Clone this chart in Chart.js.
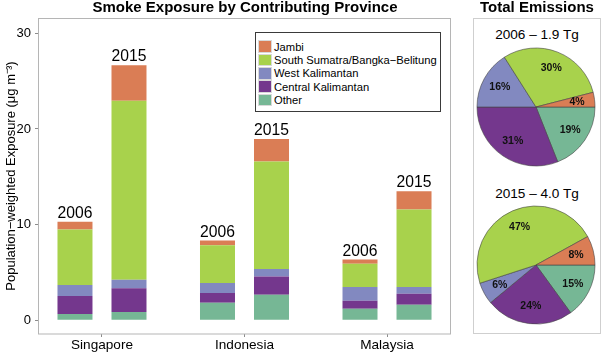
<!DOCTYPE html>
<html>
<head>
<meta charset="utf-8">
<title>Smoke Exposure by Contributing Province</title>
<script src="https://cdn.jsdelivr.net/npm/chart.js@4.4.0/dist/chart.umd.min.js"></script>
<style>
    body { margin: 0; background: #fff; font-family: 'Liberation Sans', Arial, sans-serif; color: #000; }
    #page { position: relative; width: 602px; height: 352px; overflow: hidden; }
    .abs { position: absolute; }
    .panel-title { font-weight: bold; font-size: 15px; line-height: 16px; text-align: center; top: -1px; }
    .pie-title { font-size: 13.6px; line-height: 16px; text-align: center; left: 473px; width: 128px; }
    #legend { left: 255px; top: 32px; width: 186px; height: 80px; box-sizing: border-box;
              border: 1px solid #3a3a3a; background: #fff; padding: 7px 0 0 2px; }
    .legend-row { display: flex; align-items: center; height: 13.3px; font-size: 11.2px; }
    .legend-swatch { width: 14px; height: 12.6px; margin-right: 2px; box-sizing: border-box; border: 0.5px solid #d9d9d9; }
    #pieBox { left: 473px; top: 18px; width: 128px; height: 316px; box-sizing: border-box; border: 1px solid #cfcfcf; }
</style>
</head>
<body>
<div id="page">
    <canvas id="barChart" class="abs" width="460" height="352" style="left:0;top:0"></canvas>
    <div class="abs panel-title" style="left:39px;width:412px">Smoke Exposure by Contributing Province</div>
    <div id="legend" class="abs"></div>

    <div class="abs panel-title" style="left:473px;width:128px">Total Emissions</div>
    <div id="pieBox" class="abs"></div>
    <div id="pieTitle0" class="abs pie-title" style="top:27px"></div>
    <div id="pieTitle1" class="abs pie-title" style="top:186px"></div>
    <canvas id="pie2006" class="abs" width="122" height="122" style="left:475px;top:46px"></canvas>
    <canvas id="pie2015" class="abs" width="122" height="122" style="left:475px;top:204px"></canvas>
</div>

<script>
// Datos
const countries = ['Singapore', 'Indonesia', 'Malaysia'];
const years = ['2006', '2015'];
// orden de apilado: de abajo hacia arriba
const provinces = ['Other', 'Central Kalimantan', 'West Kalimantan', 'South Sumatra/Bangka\u2212Belitung', 'Jambi'];
const provinceColors = ['#76B795', '#74378D', '#8289C0', '#A8D24C', '#DA7D55'];

// exposicion (ug m-3) por pais: Singapore, Indonesia, Malaysia
const other2006 = [0.66, 1.84, 1.21];
const centralKal2006 = [1.88, 1.02, 0.84];
const westKal2006 = [1.16, 1.04, 1.44];
const sumatra2006 = [5.79, 3.95, 2.41];
const jambi2006 = [0.80, 0.49, 0.45];

const other2015 = [0.87, 2.68, 1.63];
const centralKal2015 = [2.48, 1.89, 1.16];
const westKal2015 = [0.90, 0.80, 0.70];
const sumatra2015 = [18.71, 11.23, 8.09];
const jambi2015 = [3.70, 2.35, 1.92];

const yTicks = [0, 10, 20, 30];

// emisiones totales (%) en el mismo orden que provinces
const pie2006 = [19, 31, 16, 30, 4];
const pie2015 = [15, 24, 6, 47, 8];
const pieTitles = ['2006 \u2013 1.9 Tg', '2015 \u2013 4.0 Tg'];

const FONT = "'Liberation Sans', Arial, sans-serif";

document.addEventListener('DOMContentLoaded', function() {
    buildLegend();
    initBarChart();
    initPie('pie2006', pie2006);
    initPie('pie2015', pie2015);
    document.getElementById('pieTitle0').textContent = pieTitles[0];
    document.getElementById('pieTitle1').textContent = pieTitles[1];
});

// Leyenda en HTML (orden inverso: Jambi arriba)
function buildLegend() {
    const legend = document.getElementById('legend');
    for (let i = provinces.length - 1; i >= 0; i--) {
        const row = document.createElement('div');
        row.className = 'legend-row';
        const sw = document.createElement('span');
        sw.className = 'legend-swatch';
        sw.style.background = provinceColors[i];
        const txt = document.createElement('span');
        txt.textContent = provinces[i];
        row.appendChild(sw);
        row.appendChild(txt);
        legend.appendChild(row);
    }
}

// Marco gris alrededor del panel
const framePlugin = {
    id: 'frame',
    afterDraw(chart) {
        const { ctx, chartArea } = chart;
        ctx.save();
        ctx.strokeStyle = '#b5b5b5';
        ctx.lineWidth = 1;
        ctx.strokeRect(chartArea.left - 0.5, chartArea.top + 0.5,
            chartArea.right - chartArea.left, chartArea.bottom - chartArea.top - 0.5);
        ctx.restore();
    }
};

// Etiqueta del ano encima de cada barra
const yearLabelPlugin = {
    id: 'yearLabels',
    afterDatasetsDraw(chart) {
        const ctx = chart.ctx;
        ctx.save();
        ctx.font = '15.7px ' + FONT;
        ctx.fillStyle = '#000';
        ctx.textAlign = 'center';
        ctx.textBaseline = 'alphabetic';
        years.forEach((year, k) => {
            const meta = chart.getDatasetMeta(k * provinces.length + provinces.length - 1);
            meta.data.forEach(bar => {
                ctx.fillText(year, bar.x, bar.y - 4);
            });
        });
        ctx.restore();
    }
};

function initBarChart() {
    const series = {
        '2006': [other2006, centralKal2006, westKal2006, sumatra2006, jambi2006],
        '2015': [other2015, centralKal2015, westKal2015, sumatra2015, jambi2015]
    };
    const datasets = [];
    years.forEach(year => {
        series[year].forEach((values, p) => {
            datasets.push({
                label: provinces[p] + ' ' + year,
                stack: year,
                data: values.map((v, i) => ({ x: i + 1, y: v })),
                backgroundColor: provinceColors[p],
                borderWidth: 0,
                categoryPercentage: 0.758,
                barPercentage: 0.648
            });
        });
    });

    new Chart(document.getElementById('barChart'), {
        type: 'bar',
        data: { datasets: datasets },
        options: {
            responsive: false,
            animation: false,
            layout: { padding: { top: 18, right: 9, left: 0, bottom: 0 } },
            plugins: {
                legend: { display: false },
                tooltip: { enabled: false }
            },
            scales: {
                x: {
                    type: 'linear',
                    stacked: true,
                    offset: false,
                    min: 0.558,
                    max: 3.449,
                    afterBuildTicks: function(scale) {
                        scale.ticks = countries.map((c, i) => ({ value: i + 1 }));
                    },
                    afterFit: function(scale) { scale.height = 18; },
                    grid: { display: true, drawOnChartArea: false, offset: false, tickLength: 3, color: '#8c8c8c' },
                    border: { display: false },
                    ticks: {
                        autoSkip: false,
                        maxRotation: 0,
                        padding: 0,
                        color: '#000',
                        font: { size: 13.6, family: FONT },
                        callback: function(value) { return countries[Math.round(value) - 1]; }
                    }
                },
                y: {
                    stacked: true,
                    min: -1.43,
                    max: 31.6,
                    afterBuildTicks: function(scale) {
                        scale.ticks = yTicks.map(v => ({ value: v }));
                    },
                    afterFit: function(scale) { scale.width = 39; },
                    grid: { display: true, drawOnChartArea: false, tickLength: 4, color: '#8c8c8c' },
                    border: { display: false },
                    ticks: {
                        padding: 4,
                        color: '#000',
                        font: { size: 13, family: FONT }
                    },
                    title: {
                        display: true,
                        text: 'Population\u2212weighted Exposure (\u03bcg m\u207b\u00b3)',
                        color: '#000',
                        font: { size: 13, family: FONT },
                        padding: { top: 4, bottom: 0 }
                    }
                }
            }
        },
        plugins: [framePlugin, yearLabelPlugin]
    });
}

// Porcentajes dentro de cada sector
const pieLabelPlugin = {
    id: 'pieLabels',
    afterDatasetsDraw(chart) {
        const ctx = chart.ctx;
        const meta = chart.getDatasetMeta(0);
        const values = chart.data.datasets[0].data;
        ctx.save();
        ctx.font = 'bold 10.5px ' + FONT;
        ctx.fillStyle = '#111';
        ctx.textAlign = 'center';
        ctx.textBaseline = 'middle';
        meta.data.forEach((arc, i) => {
            const mid = (arc.startAngle + arc.endAngle) / 2;
            const r = arc.outerRadius * 0.7;
            ctx.fillText(values[i] + '%', arc.x + Math.cos(mid) * r, arc.y + Math.sin(mid) * r);
        });
        ctx.restore();
    }
};

function initPie(canvasId, values) {
    new Chart(document.getElementById(canvasId), {
        type: 'pie',
        data: {
            labels: provinces,
            datasets: [{
                data: values,
                backgroundColor: provinceColors,
                borderColor: '#444',
                borderWidth: 0.6
            }]
        },
        options: {
            responsive: false,
            animation: false,
            rotation: 90,
            radius: 59,
            layout: { padding: 0 },
            plugins: {
                legend: { display: false },
                tooltip: { enabled: false }
            }
        },
        plugins: [pieLabelPlugin]
    });
}
</script>
</body>
</html>
